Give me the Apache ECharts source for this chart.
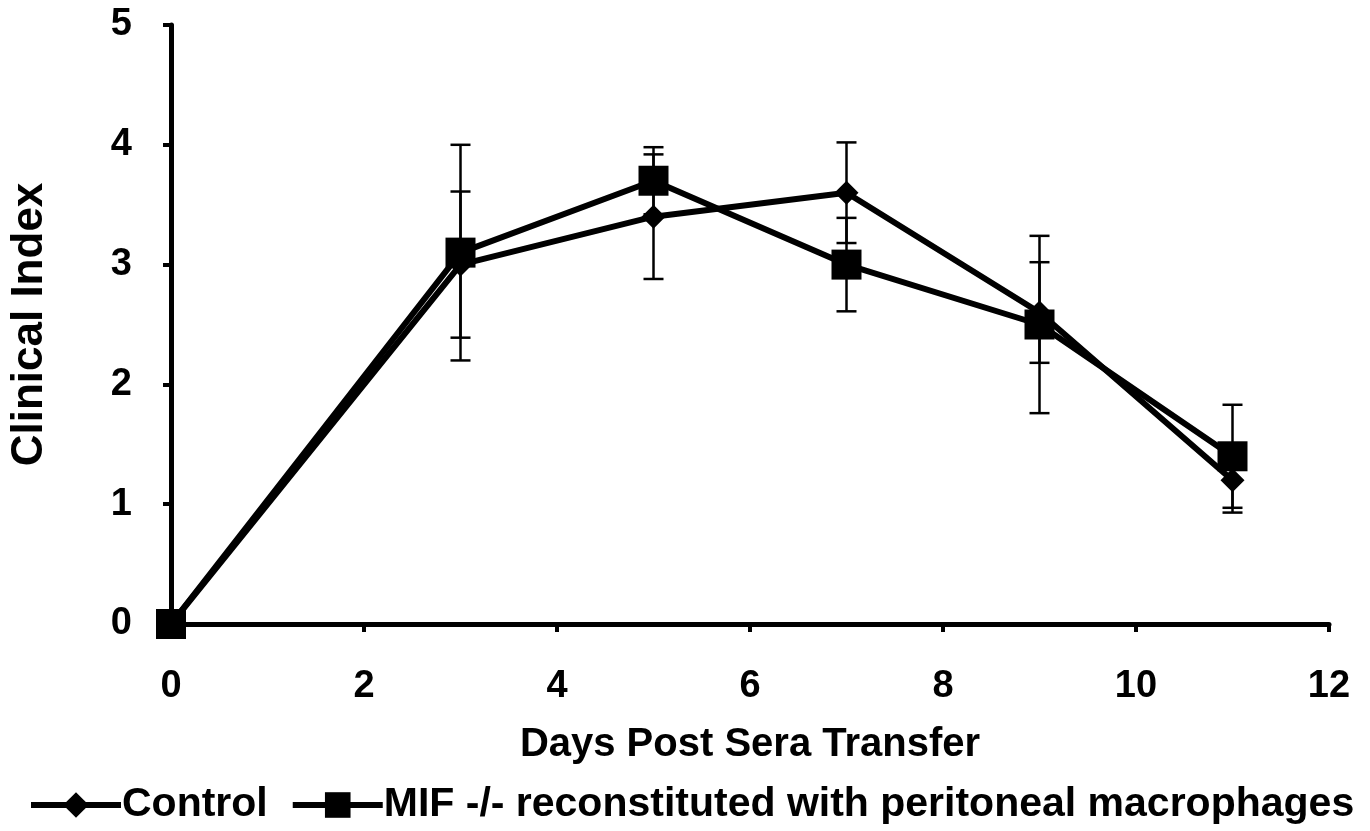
<!DOCTYPE html>
<html>
<head>
<meta charset="utf-8">
<script src="https://cdn.jsdelivr.net/npm/echarts@6/dist/echarts.min.js"></script>
<style>
html,body{margin:0;padding:0;background:#fff;}
#chart{width:1370px;height:831px;}
</style>
</head>
<body>
<div id="chart"></div>
<script>
const days = [0, 3, 5, 7, 9, 11];
const controlMean = [0, 3.0, 3.4, 3.6, 2.6, 1.2];
const controlErr  = [0, 0.61, 0.52, 0.42, 0.42, 0.27];
const mifMean = [0, 3.1, 3.7, 3.0, 2.5, 1.4];
const mifErr  = [0, 0.9, 0.28, 0.39, 0.74, 0.43];
const xTicks = [0, 2, 4, 6, 8, 10, 12];
const yTicks = [0, 1, 2, 3, 4, 5];
const seriesNames = ['Control', 'MIF -/- reconstituted with peritoneal macrophages'];
const xTitle = 'Days Post Sera Transfer';
const yTitle = 'Clinical Index';

const FONT = '"Liberation Sans", Arial, sans-serif';

function pts(mean) { return days.map((d, i) => [d, mean[i]]); }
function errData(mean, err) {
  return days.map((d, i) => [d, mean[i] - err[i], mean[i] + err[i]]);
}
function errRender(params, api) {
  const x = api.value(0);
  const lo = api.coord([x, api.value(1)]);
  const hi = api.coord([x, api.value(2)]);
  const cap = 10;
  const style = { stroke: '#000', lineWidth: 2.5 };
  return {
    type: 'group',
    children: [
      { type: 'line', shape: { x1: lo[0], y1: lo[1], x2: hi[0], y2: hi[1] }, style },
      { type: 'line', shape: { x1: lo[0] - cap, y1: lo[1], x2: lo[0] + cap, y2: lo[1] }, style },
      { type: 'line', shape: { x1: hi[0] - cap, y1: hi[1], x2: hi[0] + cap, y2: hi[1] }, style }
    ]
  };
}

const chart = echarts.init(document.getElementById('chart'), null, { renderer: 'canvas' });
chart.setOption({
  animation: false,
  backgroundColor: '#fff',
  textStyle: { fontFamily: FONT },
  grid: { left: 171, right: 41, top: 25, bottom: 207, containLabel: false },
  legend: {
    data: seriesNames,
    top: 783,
    left: 28,
    padding: 0,
    itemWidth: 90,
    itemHeight: 32,
    itemGap: 22,
    lineStyle: { width: 6 },
    textStyle: { fontFamily: FONT, fontWeight: 'bold', fontSize: 41, lineHeight: 44, color: '#000', padding: [0, 0, 0, -4] }
  },
  xAxis: {
    type: 'value',
    min: xTicks[0], max: xTicks[xTicks.length - 1], interval: 2,
    name: xTitle, nameLocation: 'middle', nameGap: 101,
    nameTextStyle: { fontFamily: FONT, fontWeight: 'bold', fontSize: 40, color: '#000' },
    axisLine: { lineStyle: { color: '#000', width: 5 } },
    axisTick: { show: true, length: 8, lineStyle: { color: '#000', width: 4 } },
    axisLabel: { margin: 44, fontFamily: FONT, fontWeight: 'bold', fontSize: 38, color: '#000' },
    splitLine: { show: false }
  },
  yAxis: {
    type: 'value',
    min: yTicks[0], max: yTicks[yTicks.length - 1], interval: 1,
    name: yTitle, nameLocation: 'middle', nameGap: 119, nameRotate: 90,
    nameTextStyle: { fontFamily: FONT, fontWeight: 'bold', fontSize: 44, color: '#000' },
    axisLine: { show: true, lineStyle: { color: '#000', width: 5 } },
    axisTick: { show: true, length: 8, lineStyle: { color: '#000', width: 4 } },
    axisLabel: { margin: 39, fontFamily: FONT, fontWeight: 'bold', fontSize: 38, color: '#000' },
    splitLine: { show: false }
  },
  series: [
    { name: 'ctrlErr', type: 'custom', renderItem: errRender, data: errData(controlMean, controlErr), z: 3, silent: true },
    { name: 'mifErr', type: 'custom', renderItem: errRender, data: errData(mifMean, mifErr), z: 3, silent: true },
    {
      name: seriesNames[0], type: 'line', data: pts(controlMean),
      symbol: 'diamond', symbolSize: 24, showAllSymbol: true,
      lineStyle: { color: '#000', width: 6 }, itemStyle: { color: '#000' }, z: 4
    },
    {
      name: seriesNames[1], type: 'line', data: pts(mifMean),
      symbol: 'rect', symbolSize: 30, showAllSymbol: true,
      lineStyle: { color: '#000', width: 6 }, itemStyle: { color: '#000' }, z: 5
    }
  ]
});
</script>
</body>
</html>
